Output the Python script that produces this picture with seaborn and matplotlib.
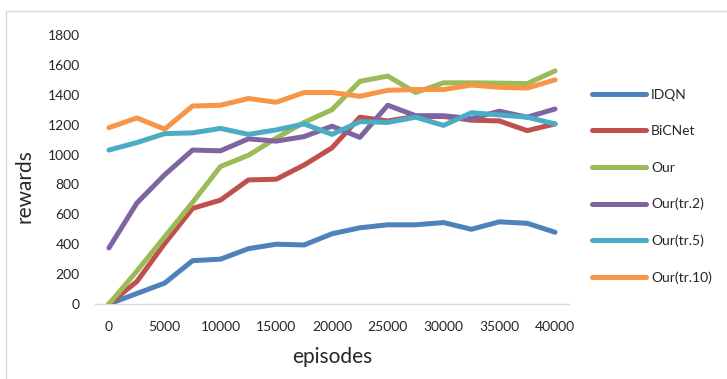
import numpy as np
import pandas as pd
import matplotlib
matplotlib.use("Agg")
import matplotlib.pyplot as plt
from matplotlib.patches import Rectangle
import seaborn as sns

# Training curves: average reward every 2500 episodes
episodes = [0, 2500, 5000, 7500, 10000, 12500, 15000, 17500, 20000,
            22500, 25000, 27500, 30000, 32500, 35000, 37500, 40000]

idqn = [0, 70, 140, 290, 300, 370, 400, 395, 470, 510, 530, 530, 545, 500, 550, 540, 480]
bicnet = [0, 150, 405, 640, 695, 830, 835, 930, 1045, 1250, 1225, 1255, 1255, 1230, 1225, 1160, 1205]
our = [0, 220, 450, 680, 920, 995, 1110, 1215, 1300, 1490, 1525, 1415, 1480, 1480, 1478, 1475, 1560]
our_tr2 = [375, 675, 865, 1030, 1025, 1105, 1090, 1120, 1190, 1115, 1330, 1260, 1260, 1240, 1290, 1250, 1305]
our_tr5 = [1030, 1080, 1140, 1145, 1175, 1135, 1165, 1205, 1135, 1220, 1215, 1250, 1195, 1280, 1265, 1250, 1205]
our_tr10 = [1180, 1245, 1170, 1325, 1330, 1375, 1350, 1415, 1415, 1390, 1430, 1435, 1435, 1465, 1450, 1445, 1500]

series_names = ["IDQN", "BiCNet", "Our", "Our(tr.2)", "Our(tr.5)", "Our(tr.10)"]
series_values = [idqn, bicnet, our, our_tr2, our_tr5, our_tr10]
colors = ["#4F81BD", "#C0504D", "#9BBB59", "#8064A2", "#4BACC6", "#F79646"]

y_ticks = [0, 200, 400, 600, 800, 1000, 1200, 1400, 1600, 1800]
x_ticks = [0, 5000, 10000, 15000, 20000, 25000, 30000, 35000, 40000]

df = pd.concat(
    [pd.DataFrame({"episodes": episodes, "rewards": vals, "method": name})
     for name, vals in zip(series_names, series_values)],
    ignore_index=True,
)

sns.set_theme(style="white")
plt.rcParams["font.family"] = ["Lato", "DejaVu Sans"]

W, H = 727, 379
fig = plt.figure(figsize=(W / 100, H / 100), dpi=100)
ax = fig.add_axes([95 / W, 1 - 304 / H, (569 - 95) / W, (304 - 35) / H])

sns.lineplot(data=df, x="episodes", y="rewards", hue="method",
             hue_order=series_names, palette=colors, linewidth=3.6,
             solid_capstyle="round", solid_joinstyle="round",
             legend=False, ax=ax, zorder=3)

ax.set_xlim(-1250, 41250)
ax.set_ylim(0, 1800)
ax.set_xticks(x_ticks)
ax.set_yticks(y_ticks)
ax.set_xticklabels([str(v) for v in x_ticks])
ax.set_yticklabels([str(v) for v in y_ticks])
ax.tick_params(axis="both", length=0, labelsize=10, colors="#262626")
ax.tick_params(axis="x", pad=12)
ax.tick_params(axis="y", pad=11)

for side in ["top", "right", "left"]:
    ax.spines[side].set_visible(False)
ax.spines["bottom"].set_color("#D9D9D9")
ax.spines["bottom"].set_linewidth(1.0)
ax.spines["bottom"].set_zorder(1)

ax.set_xlabel("episodes", fontsize=15, color="#262626")
ax.set_ylabel("rewards", fontsize=15, color="#262626")
ax.xaxis.set_label_coords(0.5, -0.158)
ax.yaxis.set_label_coords(-0.128, 0.44)

handles = [plt.Line2D([], [], color=c, linewidth=3.6, solid_capstyle="round")
           for c in colors]
leg = fig.legend(handles, series_names, loc="upper left",
                 bbox_to_anchor=(585 / W, 1 - 82 / H), frameon=False,
                 fontsize=10, handlelength=3.9, handletextpad=0.35,
                 labelspacing=1.75, borderpad=0)
for t in leg.get_texts():
    t.set_color("#262626")

# Chart area border
fig.patches.append(Rectangle((6 / W, -0.1), 1.2, 1 - 11 / H + 0.1,
                             transform=fig.transFigure, fill=False,
                             edgecolor="#D9D9D9", linewidth=1.0))

fig.savefig("out.png", dpi=100)
